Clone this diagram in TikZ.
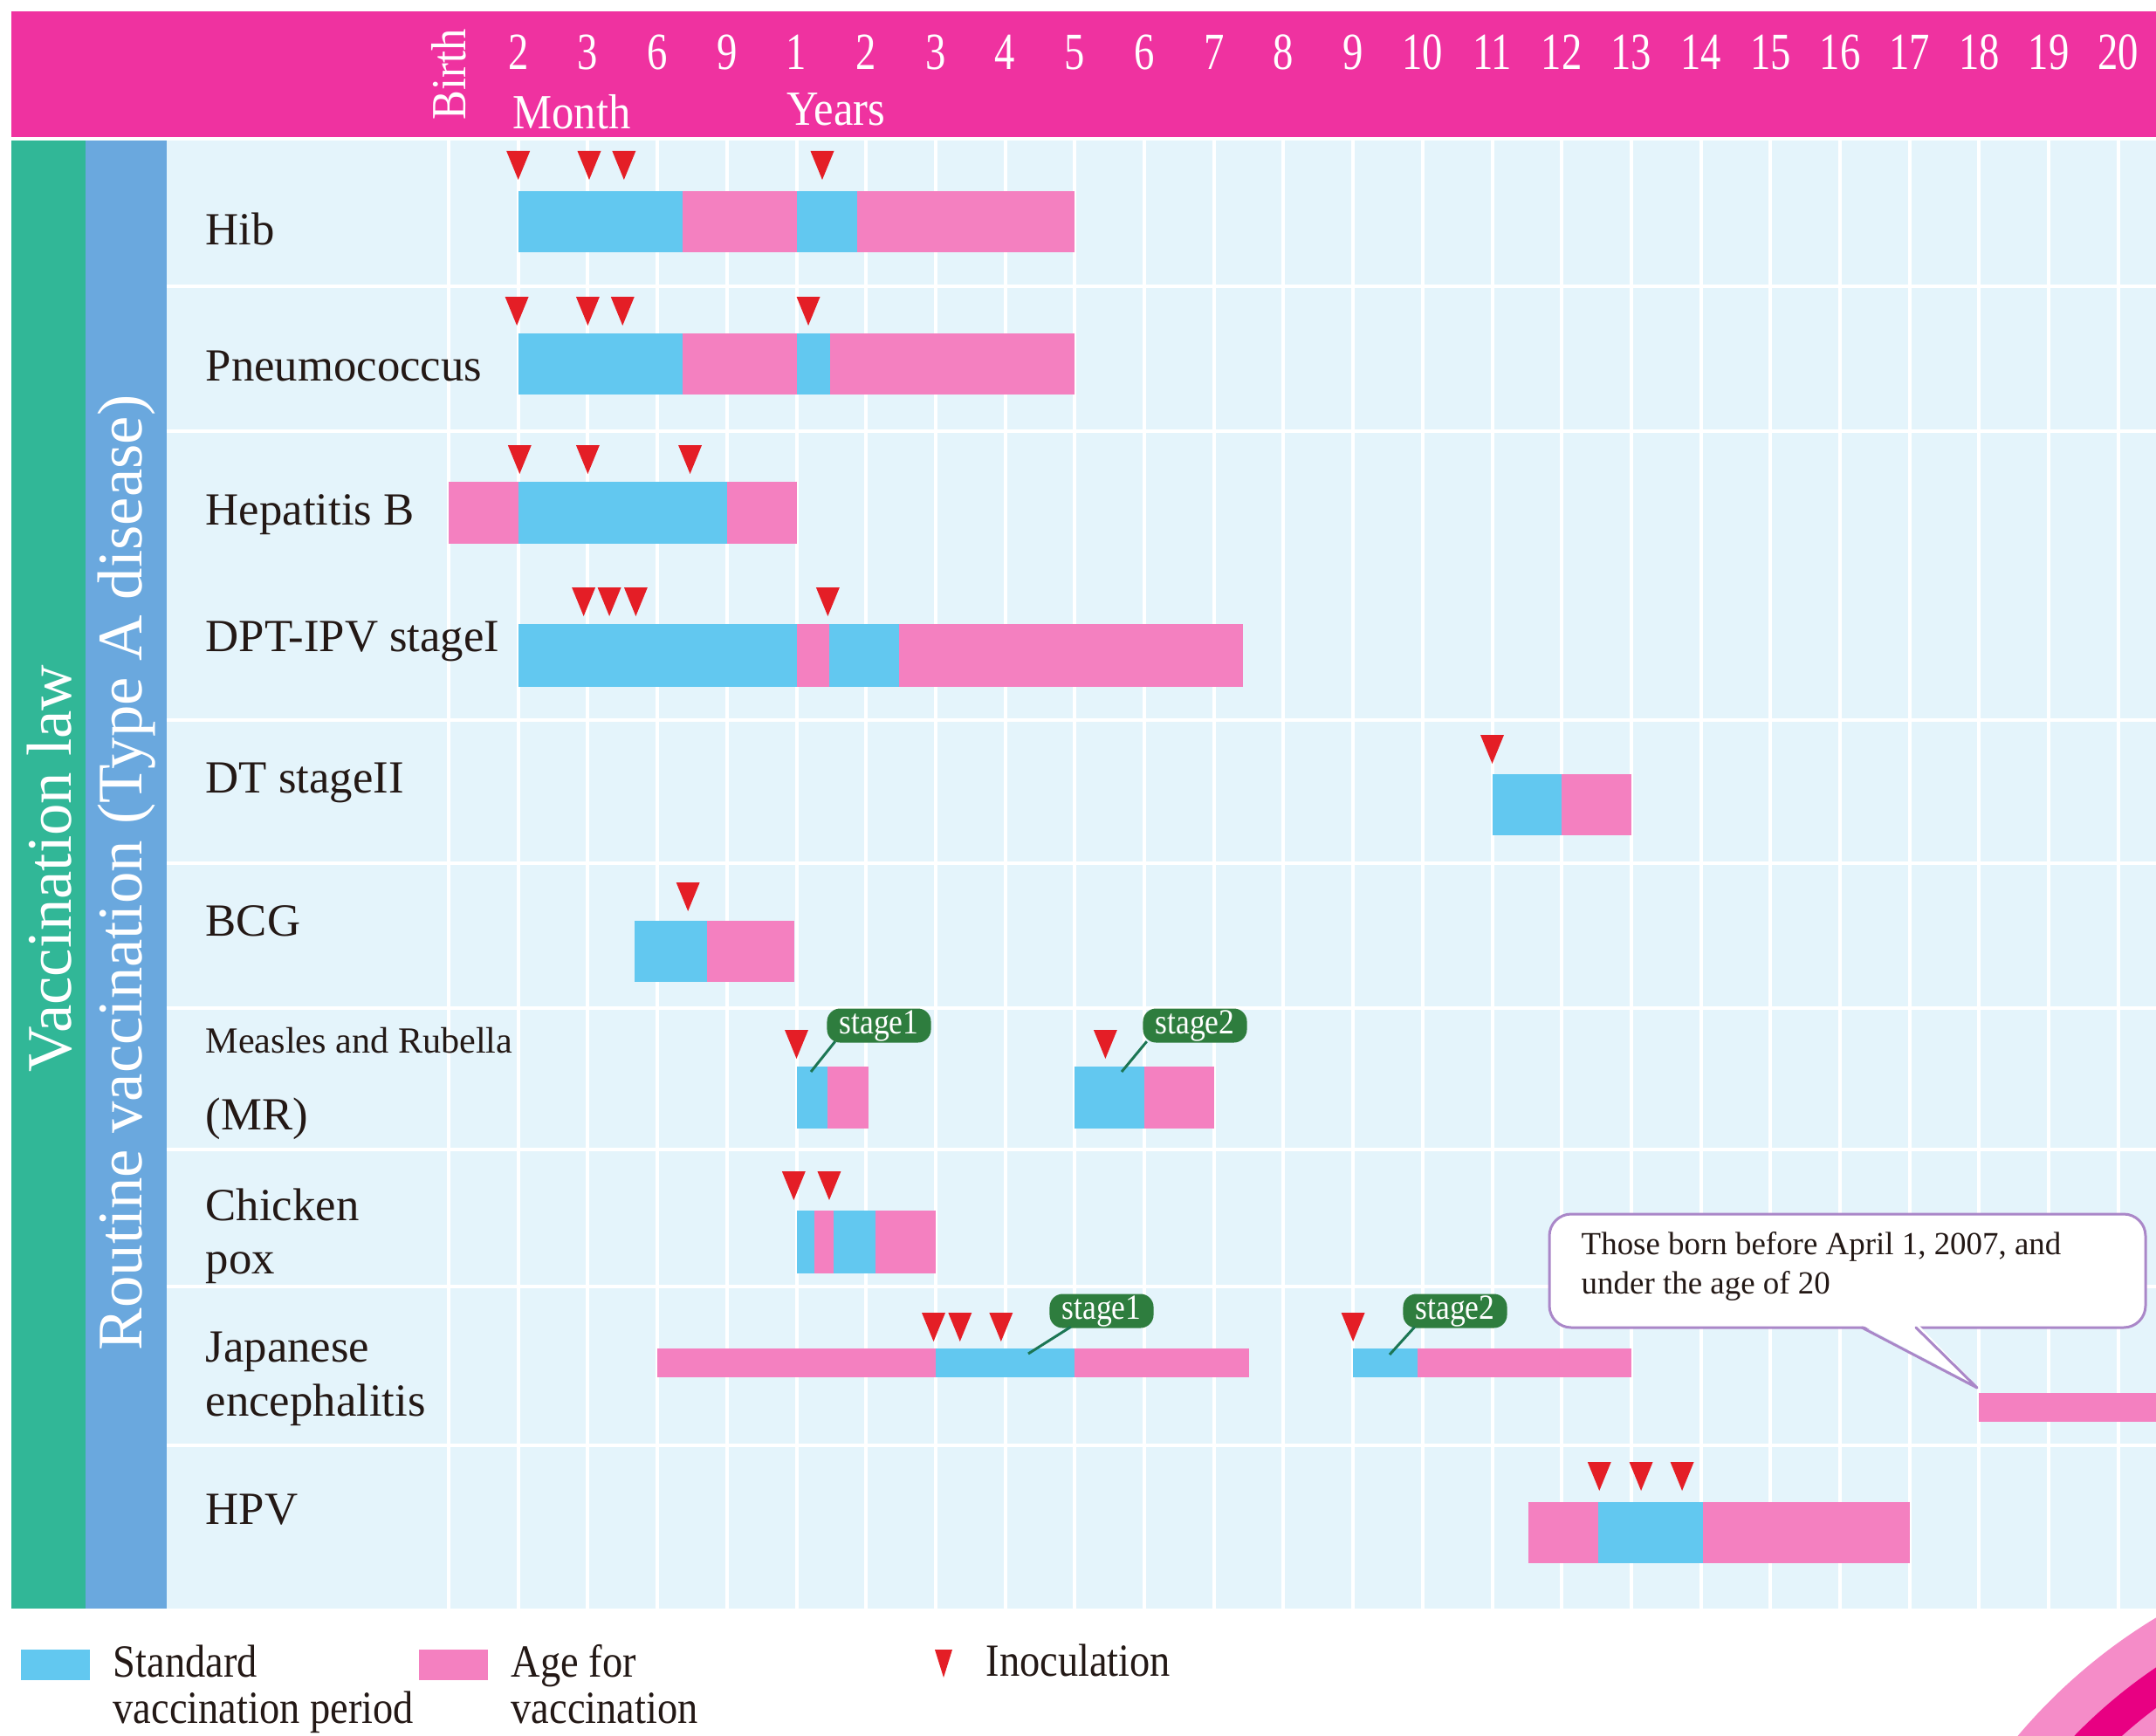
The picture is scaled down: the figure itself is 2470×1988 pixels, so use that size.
\documentclass[tikz,border=0pt]{standalone}
\usepackage{fontspec}
\setmainfont{Liberation Serif}
\newfontfamily\condA[FakeStretch=0.78]{Liberation Serif}
\newfontfamily\condW[FakeStretch=0.9]{Liberation Serif}
\newfontfamily\condB[FakeStretch=0.88]{Liberation Serif}
\usetikzlibrary{calc}
\definecolor{hdr}{RGB}{239,50,160}
\definecolor{bgblue}{RGB}{228,244,251}
\definecolor{stdblue}{RGB}{98,200,240}
\definecolor{agepink}{RGB}{244,128,192}
\definecolor{inored}{RGB}{228,30,38}
\definecolor{lawgreen}{RGB}{49,183,151}
\definecolor{routblue}{RGB}{106,168,222}
\definecolor{stagegreen}{RGB}{46,125,62}
\definecolor{ptrgreen}{RGB}{28,118,84}
\definecolor{callbd}{RGB}{170,135,200}
\definecolor{txt}{RGB}{35,24,21}
\definecolor{arclight}{RGB}{245,140,200}
\definecolor{arcdark}{RGB}{232,0,130}
\newcommand\vsegm[5]{\fill[#5] ({514+79.7*(#1)},#3) rectangle ({514+79.7*(#2)},#4);}
\newcommand\vtri[2]{\fill[inored] ({514+79.7*(#1)-13.5},#2) -- ({514+79.7*(#1)+13.5},#2) -- ({514+79.7*(#1)},#2+33) -- cycle;}
\begin{document}
\begin{tikzpicture}[x=0.01cm,y=-0.01cm,
  hdrnum/.style={text=white,inner sep=0,font=\condA\fontsize{17}{20}\selectfont},
  hdrword/.style={text=white,inner sep=0,font=\condW\fontsize{16}{19}\selectfont},
  gridline/.style={white,line width=0.04cm},
  lbl/.style={anchor=base west,inner sep=0,text=txt,font=\fontsize{15}{18}\selectfont},
  vtitle/.style={rotate=90,text=white,inner sep=0,font=\fontsize{20.7}{24}\selectfont},
  stagelbl/.style={rounded corners=0.15cm,fill=stagegreen,text=white,inner sep=0,
    minimum width=1.19cm,minimum height=0.39cm,font=\condB\fontsize{11.5}{13}\selectfont},
  pointer/.style={ptrgreen,line width=0.03cm},
  legtxt/.style={anchor=base west,inner sep=0,text=txt,font=\condB\fontsize{15}{18}\selectfont}]
\useasboundingbox (0,0) rectangle (2470,1988);
\fill[white] (0,0) rectangle (2470,1988);
% header
\fill[hdr] (13,13) rectangle (2470,157);
\foreach \c/\t in {1/2,2/3,3/6,4/9,5/1,6/2,7/3,8/4,9/5,10/6,11/7,12/8,13/9,14/10,15/11,16/12,17/13,18/14,19/15,20/16,21/17,22/18,23/19,24/20}
  \node[hdrnum] (h\c) at ({514+79.7*\c},60) {\t};
\node[hdrword,rotate=90] (birth) at (514,85) {Birth};
\node[hdrword] (month) at (655,128) {Month};
\node[hdrword] (years) at (958,125) {Years};
% body background
\fill[bgblue] (191,161) rectangle (2470,1843);
\fill[lawgreen] (13,161) rectangle (98,1843);
\fill[routblue] (98,161) rectangle (191,1843);
\foreach \c in {0,...,24}
  \draw[gridline] ({514+79.7*\c},161) -- ({514+79.7*\c},1843);
\foreach \y in {328,494,825,989,1155,1317,1474,1656}
  \draw[gridline] (191,\y) -- (2470,\y);
\node[vtitle] (law) at (57,995) {Vaccination law};
\node[vtitle] (routine) at (145,1000) {Routine vaccination (Type A disease)};
% labels
\node[lbl] (hib) at (235,280) {Hib};
\node[lbl] (pneu) at (235,436) {Pneumococcus};
\node[lbl] (hepb) at (235,601) {Hepatitis B};
\node[lbl] (dpt) at (235,746) {DPT-IPV stageI};
\node[lbl] (dt) at (235,908) {DT stageII};
\node[lbl] (bcg) at (235,1072) {BCG};
\node[lbl,font=\fontsize{12}{14}\selectfont] (mr) at (235,1206) {Measles and Rubella};
\node[lbl] (mrb) at (235,1294) {(MR)};
\node[lbl] (chk1) at (235,1398) {Chicken};
\node[lbl] (chk2) at (235,1459) {pox};
\node[lbl] (je1l) at (235,1560) {Japanese};
\node[lbl] (je2l) at (235,1622) {encephalitis};
\node[lbl] (hpv) at (235,1746) {HPV};
% Hib
\vsegm{1}{3.36}{219}{289}{stdblue}\vsegm{3.36}{5}{219}{289}{agepink}
\vsegm{5}{5.87}{219}{289}{stdblue}\vsegm{5.87}{9}{219}{289}{agepink}
\vtri{1}{173}\vtri{2.02}{173}\vtri{2.52}{173}\vtri{5.37}{173}
% Pneumococcus
\vsegm{1}{3.36}{382}{452}{stdblue}\vsegm{3.36}{5}{382}{452}{agepink}
\vsegm{5}{5.48}{382}{452}{stdblue}\vsegm{5.48}{9}{382}{452}{agepink}
\vtri{0.98}{340}\vtri{2}{340}\vtri{2.5}{340}\vtri{5.17}{340}
% Hepatitis B
\vsegm{0}{1}{552}{623}{agepink}\vsegm{1}{4}{552}{623}{stdblue}\vsegm{4}{5}{552}{623}{agepink}
\vtri{1.02}{510}\vtri{2}{510}\vtri{3.47}{510}
% DPT-IPV
\vsegm{1}{5}{715}{787}{stdblue}\vsegm{5}{5.47}{715}{787}{agepink}
\vsegm{5.47}{6.48}{715}{787}{stdblue}\vsegm{6.48}{11.42}{715}{787}{agepink}
\vtri{1.94}{673}\vtri{2.31}{673}\vtri{2.69}{673}\vtri{5.45}{673}
% DT
\vsegm{15}{16}{887}{957}{stdblue}\vsegm{16}{17}{887}{957}{agepink}
\vtri{15}{842}
% BCG
\vsegm{2.67}{3.71}{1055}{1125}{stdblue}\vsegm{3.71}{4.97}{1055}{1125}{agepink}
\vtri{3.44}{1011}
% MR
\vsegm{5}{5.45}{1222}{1293}{stdblue}\vsegm{5.45}{6.04}{1222}{1293}{agepink}
\vsegm{9}{10}{1222}{1293}{stdblue}\vsegm{10}{11}{1222}{1293}{agepink}
\vtri{5}{1180}\vtri{9.44}{1180}
% Chicken pox
\vsegm{5}{5.26}{1387}{1459}{stdblue}\vsegm{5.26}{5.53}{1387}{1459}{agepink}
\vsegm{5.53}{6.14}{1387}{1459}{stdblue}\vsegm{6.14}{7}{1387}{1459}{agepink}
\vtri{4.96}{1342}\vtri{5.47}{1342}
% Japanese encephalitis
\vsegm{3}{7}{1545}{1578}{agepink}\vsegm{7}{9}{1545}{1578}{stdblue}\vsegm{9}{11.5}{1545}{1578}{agepink}
\vtri{6.97}{1504}\vtri{7.35}{1504}\vtri{7.94}{1504}
\vsegm{13}{13.93}{1545}{1578}{stdblue}\vsegm{13.93}{17}{1545}{1578}{agepink}
\vtri{13}{1504}
\fill[agepink] ({514+79.7*22},1596) rectangle (2470,1629);
% HPV
\vsegm{15.52}{16.52}{1721}{1791}{agepink}\vsegm{16.52}{18.03}{1721}{1791}{stdblue}\vsegm{18.03}{21}{1721}{1791}{agepink}
\vtri{16.54}{1675}\vtri{17.14}{1675}\vtri{17.73}{1675}
% stage labels
\coordinate (mr1p) at (929,1228);
\coordinate (mr2p) at (1285,1228);
\coordinate (je1p) at (1178,1551);
\coordinate (je2p) at (1592,1552);
\node[stagelbl] (mr1) at (1007,1175) {stage1};
\node[stagelbl] (mr2) at (1369,1175) {stage2};
\node[stagelbl] (je1) at (1262,1502) {stage1};
\node[stagelbl] (je2) at (1667,1502) {stage2};
\draw[pointer] ([xshift=0.1cm,yshift=0.02cm]mr1.south west) -- (mr1p);
\draw[pointer] ([xshift=0.05cm,yshift=0.02cm]mr2.south west) -- (mr2p);
\draw[pointer] ([xshift=0.25cm,yshift=0.02cm]je1.south west) -- (je1p);
\draw[pointer] ([xshift=0.14cm,yshift=0.02cm]je2.south west) -- (je2p);
% callout
\draw[fill=white,draw=callbd,line width=0.03cm,rounded corners=0.25cm] (1775,1391) rectangle (2458,1521);
\fill[white] (2131,1517) -- (2197,1517) -- (2265,1588) -- cycle;
\coordinate (calltip) at (2265,1590);
\draw[callbd,line width=0.03cm,line join=round,line cap=round] (2133,1521) -- (calltip) -- (2195,1521);
\node[anchor=west,inner sep=0,align=left,text=txt,font=\fontsize{10.5}{13}\selectfont] (note) at (1811,1451)
  {Those born before April 1, 2007, and\\under the age of 20};
% legend
\fill[stdblue] (24,1890) rectangle (103,1925);
\fill[agepink] (480,1890) rectangle (559,1925);
\fill[inored] (1071,1890) -- (1091,1890) -- (1081,1922) -- cycle;
\node[legtxt] (lg1) at (129,1921) {Standard};
\node[legtxt] (lg1b) at (129,1974) {vaccination period};
\node[legtxt] (lg2) at (585,1921) {Age for};
\node[legtxt] (lg2b) at (585,1974) {vaccination};
\node[legtxt] (lg3) at (1129,1920) {Inoculation};
% corner decoration
\begin{scope}
\clip (0,0) rectangle (2470,1988);
\fill[arclight] (2800,2400) circle[radius=6.38cm];
\fill[arcdark] (2800,2400) circle[radius=5.90cm];
\fill[arclight] (2800,2400) circle[radius=5.52cm];
\end{scope}
\end{tikzpicture}
\end{document}
